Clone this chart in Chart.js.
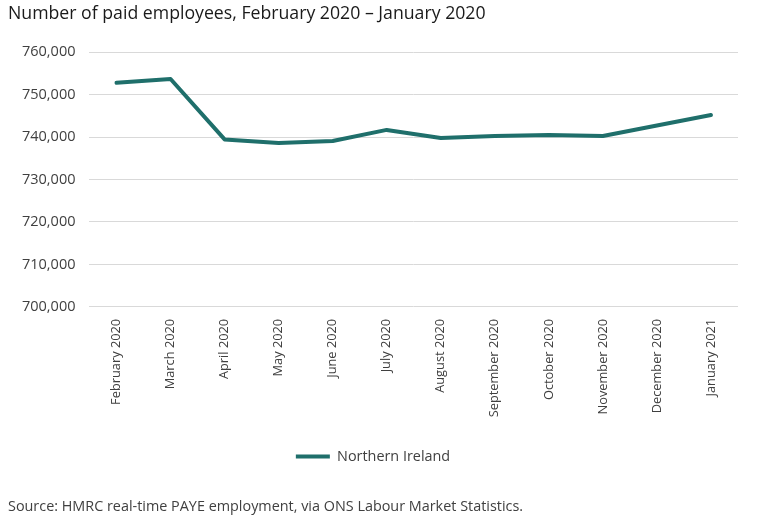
<!DOCTYPE html>
<html>
<head>
<meta charset="utf-8">
<script src="https://cdn.jsdelivr.net/npm/chart.js@4/dist/chart.umd.min.js"></script>
<style>
  html, body { margin: 0; padding: 0; background: #fff; }
  #wrap { width: 762px; height: 529px; position: relative; }
</style>
</head>
<body>
<div id="wrap"><canvas id="chart"></canvas></div>
<script>
// Data
const months = [
  'February 2020', 'March 2020', 'April 2020', 'May 2020', 'June 2020', 'July 2020',
  'August 2020', 'September 2020', 'October 2020', 'November 2020', 'December 2020', 'January 2021'
];
const northernIreland = [
  752800, 753700, 739450, 738600, 739100, 741700,
  739800, 740250, 740500, 740250, 742750, 745200
];
const yMin = 700000;
const yMax = 760000;
const yStep = 10000;

const lineColour = '#1f6f6b';
const font = "'Open Sans', sans-serif";

const ctx = document.getElementById('chart').getContext('2d');
new Chart(ctx, {
  type: 'line',
  data: {
    labels: months,
    datasets: [{
      label: 'Northern Ireland',
      data: northernIreland,
      borderColor: lineColour,
      backgroundColor: lineColour,
      borderWidth: 4,
      pointRadius: 0,
      tension: 0,
      borderCapStyle: 'round',
      borderJoinStyle: 'round'
    }]
  },
  options: {
    responsive: true,
    maintainAspectRatio: false,
    animation: false,
    layout: {
      padding: { left: 8, right: 24, top: 0, bottom: 7 }
    },
    scales: {
      x: {
        offset: true,
        grid: { display: false, drawTicks: false },
        border: { display: false },
        ticks: {
          color: '#404040',
          font: { family: font, size: 12.8 },
          minRotation: 90,
          maxRotation: 90,
          padding: 12,
          autoSkip: false
        }
      },
      y: {
        min: yMin,
        max: yMax,
        grid: { color: '#d9d9d9', drawTicks: false },
        border: { display: false },
        ticks: {
          stepSize: yStep,
          color: '#404040',
          font: { family: font, size: 14.5 },
          padding: 14,
          callback: v => v.toLocaleString('en-GB')
        }
      }
    },
    plugins: {
      title: {
        display: true,
        text: 'Number of paid employees, February 2020 \u2013 January 2020',
        align: 'start',
        color: '#1a1a1a',
        font: { family: font, size: 17.7, weight: 'normal' },
        padding: { top: 3, bottom: 28 }
      },
      legend: {
        position: 'bottom',
        labels: {
          usePointStyle: true,
          pointStyle: 'line',
          pointStyleWidth: 34,
          color: '#404040',
          font: { family: font, size: 14.4 },
          padding: 20
        }
      },
      subtitle: {
        display: true,
        position: 'bottom',
        align: 'start',
        text: 'Source: HMRC real-time PAYE employment, via ONS Labour Market Statistics.',
        color: '#404040',
        font: { family: font, size: 14.4 },
        padding: { top: 25, bottom: 6 }
      },
      tooltip: { enabled: false }
    }
  }
});
</script>
</body>
</html>
